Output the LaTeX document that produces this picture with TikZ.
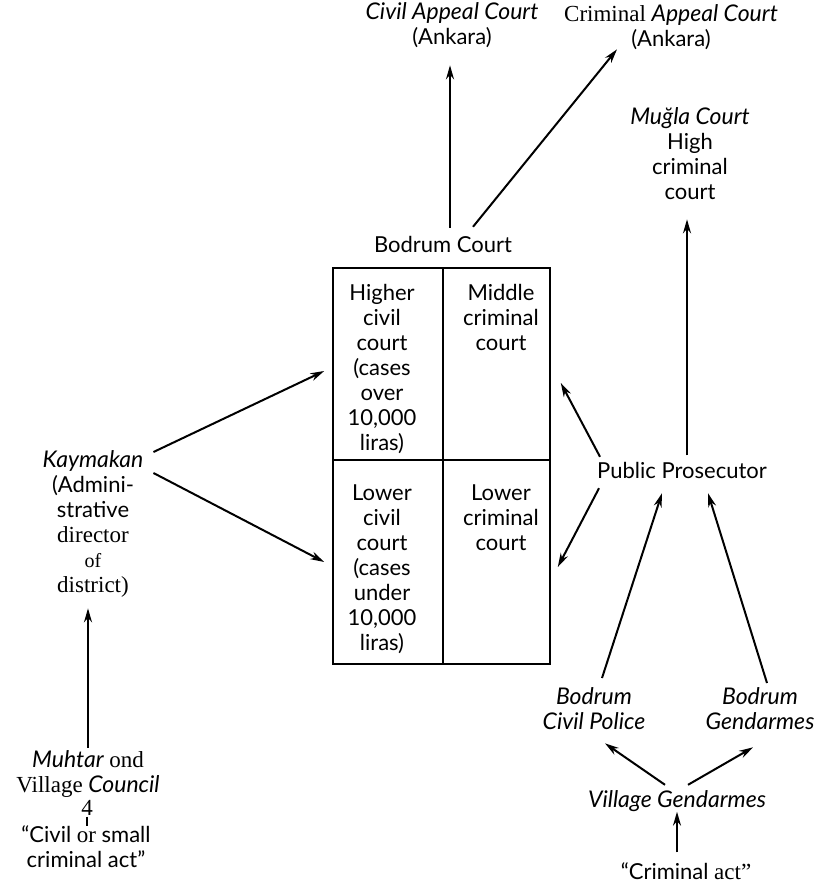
\documentclass[tikz,border=0pt]{standalone}
\usepackage{fontspec}
\setmainfont{Lato}
\newfontfamily\timesfont{Liberation Serif}
\newcommand{\timesbig}{\timesfont\fontsize{23}{25}\selectfont}
\newcommand{\itx}[1]{{\fontsize{23}{25}\selectfont\itshape #1}}
\usetikzlibrary{arrows.meta}

\begin{document}
\begin{tikzpicture}[x=1pt, y=-1pt, font=\fontsize{22}{25}\selectfont,
	every node/.style={inner sep=0pt, align=center, execute at begin node=\strut},
	arr/.style={-{Stealth[length=14pt, width=8pt]}, line width=2pt},
	courtCell/.style={rectangle, draw=black, line width=1.6pt, minimum width=#1}]
\useasboundingbox (0,0) rectangle (827,888);

	\node[anchor=north](civilAppeal) at (452,2.5){\itx{Civil Appeal Court}\\(Ankara)};
	\node[anchor=north](criminalAppeal) at (671,4.5){{\timesbig Criminal} \itx{Appeal Court}\\(Ankara)};
	\node[anchor=north](muglaCourt) at (690,107.5){\itx{Muğla Court}\\High\\criminal\\court};
	\node[anchor=base](bodrumCourt) at (443,252){Bodrum Court};

	\node[courtCell=110pt, minimum height=192pt](higherCivil) at (388,364){};
	\node[courtCell=107pt, minimum height=192pt](middleCriminal) at (496.5,364){};
	\node[courtCell=110pt, minimum height=204pt](lowerCivil) at (388,562){};
	\node[courtCell=107pt, minimum height=204pt](lowerCriminal) at (496.5,562){};
	\node[anchor=north](higherCivilLabel) at (382,284.5){Higher\\civil\\court\\(cases\\over\\10,000\\liras)};
	\node[anchor=north](middleCriminalLabel) at (501,284.5){Middle\\criminal\\court};
	\node[anchor=north](lowerCivilLabel) at (382,484.5){Lower\\civil\\court\\(cases\\under\\10,000\\liras)};
	\node[anchor=north](lowerCriminalLabel) at (501,484.5){Lower\\criminal\\court};

	\node[anchor=north](kaymakan) at (93,450.5){\itx{Kaymakan}\\(Admini-\\strative\\{\timesbig director}\\{\timesfont\fontsize{20}{25}\selectfont of}\\{\timesbig district)}};
	\node[anchor=north](muhtar) at (88,750.5){\itx{Muhtar} {\timesbig ond}\\{\timesbig Village} \itx{Council}};
	\node[anchor=base](muhtarFour) at (87,815){\timesbig 4};
	\node[anchor=north](civilAct) at (86,825.5){“Civil {\timesbig or} small\\criminal act”};

	\node[anchor=base](prosecutor) at (682,478){Public Prosecutor};
	\node[anchor=north](civilPolice) at (594,687.5){\itx{Bodrum}\\\itx{Civil Police}};
	\node[anchor=north](bodrumGendarmes) at (760,687.5){\itx{Bodrum}\\\itx{Gendarmes}};
	\node[anchor=base](villageGendarmes) at (677,807){\itx{Village Gendarmes}};
	\node[anchor=base](criminalAct) at (686,879){“Criminal {\timesbig act”}};

	\draw[arr] ([xshift=7pt,yshift=6.5pt]bodrumCourt.north) -- ([xshift=-2pt,yshift=-13pt]civilAppeal.south);
	\draw[arr] ([xshift=30pt,yshift=7.5pt]bodrumCourt.north) -- ([xshift=-54pt,yshift=5pt]criminalAppeal.south);

	\draw[arr] ([xshift=10pt,yshift=-1.5pt]kaymakan.north east) -- ([xshift=-8pt,yshift=-7pt]higherCivil.west);
	\draw[arr] ([xshift=10pt,yshift=-22.5pt]kaymakan.north east) -- ([xshift=-8pt]lowerCivil.west);
	\draw[arr] ([yshift=3pt]muhtar.north) -- ([xshift=-5pt,yshift=-8pt]kaymakan.south);
	\draw[line width=1.6pt] ([yshift=6pt]muhtarFour.south) -- (muhtarFour.south |- civilAct.north);

	\draw[arr] ([xshift=5pt,yshift=5pt]prosecutor.north) -- ([xshift=-3pt,yshift=-12pt]muglaCourt.south);
	\draw[arr] ([xshift=3pt,yshift=3.5pt]prosecutor.north west) -- ([xshift=10pt,yshift=-19pt]middleCriminal.east);
	\draw[arr] ([xshift=2pt,yshift=-2.5pt]prosecutor.south west) -- ([xshift=7pt,yshift=-5pt]lowerCriminal.east);

	\draw[arr] ([xshift=8pt,yshift=9.5pt]civilPolice.north) -- ([xshift=-20pt,yshift=-7.5pt]prosecutor.south);
	\draw[arr] ([xshift=7pt,yshift=4.5pt]bodrumGendarmes.north) -- ([xshift=26pt,yshift=-7.5pt]prosecutor.south);
	\draw[arr] ([xshift=-12pt,yshift=4.5pt]villageGendarmes.north) -- ([xshift=11pt,yshift=-6pt]civilPolice.south);
	\draw[arr] ([xshift=11pt,yshift=4.5pt]villageGendarmes.north) -- ([xshift=-7pt,yshift=-10pt]bodrumGendarmes.south);
	\draw[arr] ([xshift=-9pt,yshift=9pt]criminalAct.north) -- ([yshift=3pt]villageGendarmes.south);
\end{tikzpicture}
\end{document}
